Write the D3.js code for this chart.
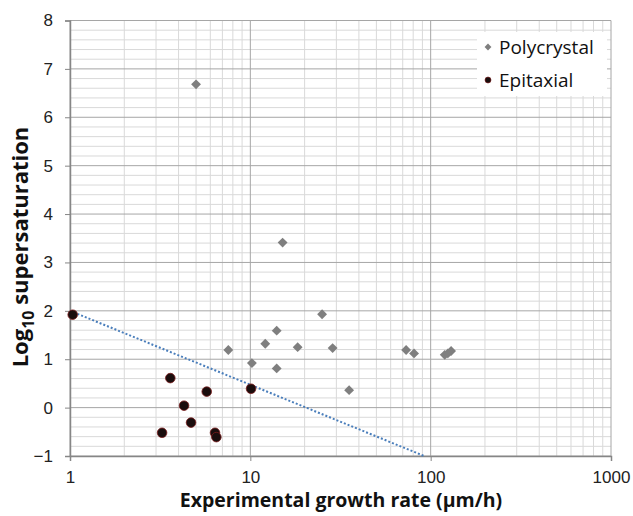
<!DOCTYPE html>
<html>
<head>
<meta charset="utf-8">
<script src="https://cdn.jsdelivr.net/npm/d3@7"></script>
<style>
  body { margin: 0; background: #fff; }
  svg { font-family: "Open Sans", "Noto Sans", sans-serif; }
  .tick-label { font-size: 17px; fill: #222; }
  .axis-title { font-weight: bold; fill: #111; }
</style>
</head>
<body>
<div id="chart"></div>
<script>
// Polycrystal data (growth rate µm/h, log10 supersaturation)
const polyX = [5.0, 15.1, 7.55, 10.2, 12.1, 14.0, 14.0, 18.3, 25.0, 28.6, 35.3, 73.1, 80.9, 119.7, 124.5, 129.8];
const polyY = [6.68, 3.41, 1.19, 0.92, 1.32, 1.59, 0.81, 1.25, 1.93, 1.23, 0.36, 1.19, 1.12, 1.09, 1.12, 1.17];

// Epitaxial data
const epiX = [1.035, 3.6, 5.73, 4.29, 4.69, 3.24, 6.37, 6.48, 10.09];
const epiY = [1.92, 0.61, 0.33, 0.04, -0.31, -0.52, -0.52, -0.61, 0.39];

// dotted trend line endpoints
const lineX = [1, 92];
const lineY = [2, -1];

const xTicks = [1, 10, 100, 1000];
const yTicks = [-1, 0, 1, 2, 3, 4, 5, 6, 7, 8];
const legendNames = ['Polycrystal', 'Epitaxial'];

const width = 633, height = 516;
const margin = {top: 20.5, right: 22, bottom: 60, left: 70};
const innerW = width - margin.left - margin.right;
const innerH = height - margin.top - margin.bottom;

const svg = d3.select('#chart').append('svg')
  .attr('width', width)
  .attr('height', height);

const g = svg.append('g')
  .attr('transform', `translate(${margin.left},${margin.top})`);

const x = d3.scaleLog().domain([1, 1000]).range([0, innerW]);
const y = d3.scaleLinear().domain([-1, 8]).range([innerH, 0]);

// minor gridlines
const xMinor = [];
for (let dec = 1; dec < 1000; dec *= 10) {
  for (let k = 2; k <= 9; k++) xMinor.push(dec * k);
}
const yMinor = d3.range(-1, 8.001, 0.2).filter(v => Math.abs(v - Math.round(v)) > 1e-6);

g.selectAll('.x-minor')
  .data(xMinor)
  .join('line')
  .attr('x1', d => x(d)).attr('x2', d => x(d))
  .attr('y1', 0).attr('y2', innerH)
  .attr('stroke', '#d9d9d9').attr('stroke-width', 1);

g.selectAll('.y-minor')
  .data(yMinor)
  .join('line')
  .attr('x1', 0).attr('x2', innerW)
  .attr('y1', d => y(d)).attr('y2', d => y(d))
  .attr('stroke', '#d9d9d9').attr('stroke-width', 1);

// major gridlines
g.selectAll('.x-major')
  .data(xTicks)
  .join('line')
  .attr('x1', d => x(d)).attr('x2', d => x(d))
  .attr('y1', 0).attr('y2', innerH)
  .attr('stroke', '#a6a6a6').attr('stroke-width', 1);

g.selectAll('.y-major')
  .data(yTicks)
  .join('line')
  .attr('x1', 0).attr('x2', innerW)
  .attr('y1', d => y(d)).attr('y2', d => y(d))
  .attr('stroke', '#a6a6a6').attr('stroke-width', 1);

// axes
const xAxis = d3.axisBottom(x).tickValues(xTicks).tickSize(5).tickPadding(10).tickFormat(d3.format('d'));
const yAxis = d3.axisLeft(y).tickValues(yTicks).tickSize(5).tickPadding(12);

const xAxisG = g.append('g').attr('transform', `translate(0,${innerH})`).call(xAxis);
const yAxisG = g.append('g').call(yAxis);

[xAxisG, yAxisG].forEach(a => {
  a.select('.domain').attr('stroke', '#868686').attr('stroke-width', 1.5);
  a.selectAll('.tick line').attr('stroke', '#868686');
  a.selectAll('.tick text').attr('class', 'tick-label').attr('font-size', null).attr('font-family', null);
});

// dotted line
const lineData = lineX.map((d, i) => ({x: d, y: lineY[i]}));
g.append('path')
  .datum(lineData)
  .attr('d', d3.line().x(d => x(d.x)).y(d => y(d.y)))
  .attr('fill', 'none')
  .attr('stroke', '#4a7ebb')
  .attr('stroke-width', 2)
  .attr('stroke-dasharray', '2,2');

// polycrystal diamonds
const diamond = d3.symbol().type(d3.symbolDiamond2).size(62);
g.selectAll('.poly')
  .data(polyX.map((d, i) => ({x: d, y: polyY[i]})))
  .join('path')
  .attr('class', 'poly')
  .attr('d', diamond)
  .attr('transform', d => `translate(${x(d.x)},${y(d.y)})`)
  .attr('fill', '#7f7f7f');

// epitaxial circles
g.selectAll('.epi')
  .data(epiX.map((d, i) => ({x: d, y: epiY[i]})))
  .join('circle')
  .attr('class', 'epi')
  .attr('cx', d => x(d.x))
  .attr('cy', d => y(d.y))
  .attr('r', 4.8)
  .attr('fill', '#1a0d0d')
  .attr('stroke', '#7a1a1a')
  .attr('stroke-width', 0.8);

// legend
const legend = svg.append('g');
legend.append('rect')
  .attr('x', 477).attr('y', 32)
  .attr('width', 130).attr('height', 64)
  .attr('fill', '#fff');

legend.append('path')
  .attr('d', d3.symbol().type(d3.symbolDiamond2).size(30))
  .attr('transform', 'translate(488,47)')
  .attr('fill', '#7f7f7f');
legend.append('circle')
  .attr('cx', 488).attr('cy', 80).attr('r', 3)
  .attr('fill', '#1a0d0d').attr('stroke', '#7a1a1a').attr('stroke-width', 0.6);

legend.selectAll('.legend-label')
  .data(legendNames)
  .join('text')
  .attr('class', 'legend-label')
  .attr('x', 499)
  .attr('y', (d, i) => 47 + i * 33)
  .attr('dy', '0.35em')
  .attr('font-size', 19)
  .attr('fill', '#111')
  .text(d => d);

// axis titles
svg.append('text')
  .attr('class', 'axis-title')
  .attr('font-size', 19.5)
  .attr('x', 341)
  .attr('y', 507)
  .attr('text-anchor', 'middle')
  .text('Experimental growth rate (µm/h)');

const yTitle = svg.append('text')
  .attr('class', 'axis-title')
  .attr('font-size', 22)
  .attr('text-anchor', 'middle')
  .attr('transform', `translate(28,247) rotate(-90)`);
yTitle.append('tspan').text('Log');
yTitle.append('tspan').attr('font-size', 16).attr('dy', 6).text('10');
yTitle.append('tspan').attr('dy', -6).text(' supersaturation');
</script>
</body>
</html>
